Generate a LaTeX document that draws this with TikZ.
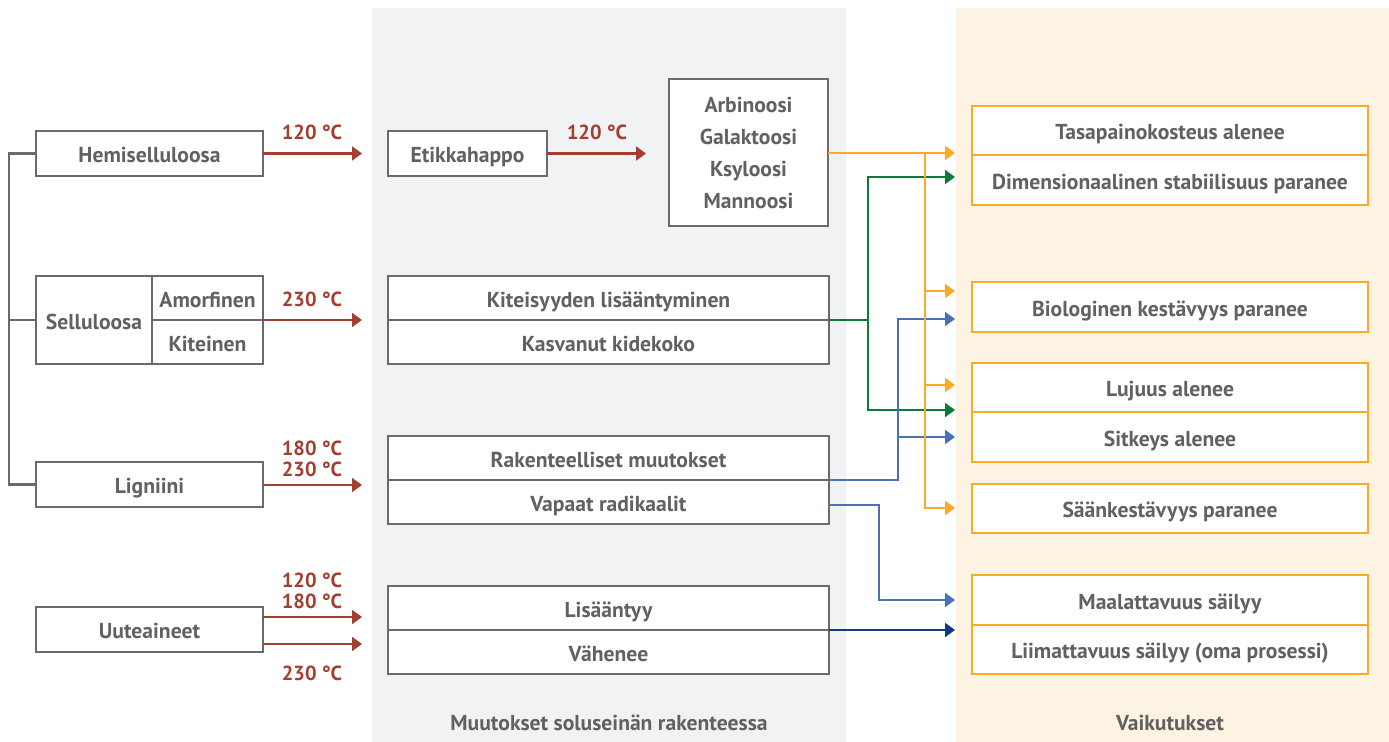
\documentclass[tikz,border=0pt]{standalone}
\usepackage{fontspec}
\setmainfont{PT Sans}
\usetikzlibrary{arrows.meta}
\definecolor{txtgray}{HTML}{616161}
\definecolor{boxgray}{HTML}{6B6B6B}
\definecolor{panelgray}{HTML}{F1F2F4}
\definecolor{panelcream}{HTML}{FDF3E3}
\definecolor{heatred}{HTML}{A23F30}
\definecolor{orng}{HTML}{FAAA25}
\definecolor{grn}{HTML}{0B7A3B}
\definecolor{blu}{HTML}{4A70BA}
\definecolor{dblu}{HTML}{0F3A80}
\tikzset{
  every node/.style={font=\bfseries\fontsize{16.2}{19}\selectfont, text=txtgray, inner sep=0pt},
  gbox/.style={draw=boxgray, line width=1.9pt, fill=white, rectangle, outer sep=0pt, text height=13.6pt, text depth=0pt},
  obox/.style={draw=orng, line width=1.9pt, fill=white, rectangle, outer sep=0pt, text height=13.6pt, text depth=0pt},
  temp/.style={text=heatred, font=\bfseries\fontsize{15.3}{18}\selectfont},
  tipa/.style={-{Triangle[length=7.5pt,width=10.5pt]}},
  redarr/.style={draw=heatred, line width=1.6pt, tipa},
  oarr/.style={draw=orng, line width=1.6pt, tipa},
  garr/.style={draw=grn, line width=1.6pt, tipa},
  barr/.style={draw=blu, line width=1.6pt, tipa},
  dbarr/.style={draw=dblu, line width=1.6pt, tipa},
  bus/.style={draw=boxgray, line width=1.9pt}
}
\begin{document}
\begin{tikzpicture}[x=0.75pt,y=-0.75pt]
\useasboundingbox (0,0) rectangle (1389,742);
% panels
\fill[panelgray] (372,8) rectangle (846,742);
\fill[panelcream] (956,8) rectangle (1389,742);
\node (lblmid) at (609,723) {Muutokset soluseinän rakenteessa};
\node (lblright) at (1170,723) {Vaikutukset};

% left column
\node[gbox, minimum width=227*0.75pt, minimum height=45*0.75pt] (hemi) at (149.5,153.5) {Hemiselluloosa};
\node[gbox, minimum width=116*0.75pt, minimum height=88*0.75pt] (sell) at (94,320) {Selluloosa};
\node[gbox, minimum width=111*0.75pt, minimum height=44*0.75pt] (amorf) at (207.5,298) {Amorfinen};
\node[gbox, minimum width=111*0.75pt, minimum height=44*0.75pt] (kite) at (207.5,342) {Kiteinen};
\node[gbox, minimum width=227*0.75pt, minimum height=45*0.75pt] (lig) at (149.5,484.5) {Ligniini};
\node[gbox, minimum width=227*0.75pt, minimum height=45*0.75pt] (uute) at (149.5,629.5) {Uuteaineet};
\coordinate (busTop) at (9,153.5);
\draw[bus] (hemi.west) -- (busTop) |- (lig.west);
\draw[bus] (sell.west) -- (sell.west -| busTop);

% middle column
\node[gbox, minimum width=159*0.75pt, minimum height=45*0.75pt] (etik) at (467.5,153.5) {Etikkahappo};
\node[draw=boxgray, line width=1.9pt, fill=white, outer sep=0pt, minimum width=159*0.75pt, minimum height=147*0.75pt, align=center, font=\bfseries\fontsize{16.2}{24}\selectfont] (sug) at (748.5,152.5) {Arbinoosi\\Galaktoosi\\Ksyloosi\\Mannoosi};
\node[gbox, minimum width=441*0.75pt, minimum height=44*0.75pt] (kit1) at (608.5,298) {Kiteisyyden lisääntyminen};
\node[gbox, minimum width=441*0.75pt, minimum height=44*0.75pt] (kit2) at (608.5,342) {Kasvanut kidekoko};
\node[gbox, minimum width=441*0.75pt, minimum height=44*0.75pt] (rak1) at (608.5,458) {Rakenteelliset muutokset};
\node[gbox, minimum width=441*0.75pt, minimum height=44*0.75pt] (rak2) at (608.5,502) {Vapaat radikaalit};
\node[gbox, minimum width=441*0.75pt, minimum height=44*0.75pt] (lis1) at (608.5,608) {Lisääntyy};
\node[gbox, minimum width=441*0.75pt, minimum height=44*0.75pt] (lis2) at (608.5,652) {Vähenee};

% right column
\node[obox, minimum width=396*0.75pt, minimum height=49*0.75pt] (tas) at (1170,130.5) {Tasapainokosteus alenee};
\node[obox, minimum width=396*0.75pt, minimum height=50*0.75pt] (dim) at (1170,180) {Dimensionaalinen stabiilisuus paranee};
\node[obox, minimum width=396*0.75pt, minimum height=50*0.75pt] (bio) at (1170,307) {Biologinen kestävyys paranee};
\node[obox, minimum width=396*0.75pt, minimum height=49*0.75pt] (luj) at (1170,387.5) {Lujuus alenee};
\node[obox, minimum width=396*0.75pt, minimum height=50*0.75pt] (sit) at (1170,437) {Sitkeys alenee};
\node[obox, minimum width=396*0.75pt, minimum height=49*0.75pt] (saan) at (1170,508.5) {Säänkestävyys paranee};
\node[obox, minimum width=396*0.75pt, minimum height=50*0.75pt] (maal) at (1170,600) {Maalattavuus säilyy};
\node[obox, minimum width=396*0.75pt, minimum height=49*0.75pt] (liim) at (1170,649.5) {Liimattavuus säilyy (oma prosessi)};

% red heat arrows
\coordinate (r1) at (362,153.5);
\coordinate (r2) at (362,320);
\coordinate (r3) at (362,485);
\coordinate (r4) at (362,617);
\coordinate (r5) at (362,644);
\coordinate (r6) at (646,153.5);
\draw[redarr] (hemi.east) -- (r1);
\draw[redarr] (amorf.south east) -- (r2);
\draw[redarr] (lig.east |- r3) -- (r3);
\draw[redarr] (uute.east |- r4) -- (r4);
\draw[redarr] (uute.east |- r5) -- (r5);
\draw[redarr] (etik.east) -- (r6);
\node[temp] (t1) at (312,132) {120 °C};
\node[temp] (t2) at (312,299) {230 °C};
\node[temp] (t3) at (312,448) {180 °C};
\node[temp] (t4) at (312,469) {230 °C};
\node[temp] (t5) at (312,580) {120 °C};
\node[temp] (t6) at (312,601) {180 °C};
\node[temp] (t7) at (312,673) {230 °C};
\node[temp] (t8) at (597,132) {120 °C};

% effect arrow targets
\coordinate (eTas) at (955,153);
\coordinate (eDim) at (955,177);
\coordinate (eBioO) at (955,291);
\coordinate (eBioB) at (955,319);
\coordinate (eLujO) at (955,385);
\coordinate (eLujG) at (955,410);
\coordinate (eSit) at (955,437);
\coordinate (eSaan) at (955,508);
\coordinate (eMaal) at (955,600);
\coordinate (eLiim) at (955,630);
\coordinate (gx) at (868,320);
\coordinate (bx) at (898,480);
\coordinate (bx2) at (879,505);
\coordinate (ox) at (925,153);

% green
\draw[garr] (kit1.south east) -- (gx) |- (eDim);
\draw[garr] (gx) |- (eLujG);
% blue
\draw[barr] (rak1.south east) -- (bx) |- (eBioB);
\draw[barr] (bx) |- (eSit);
\draw[barr] (rak2.east |- bx2) -- (bx2) |- (eMaal);
% dark blue
\draw[dbarr] (lis1.south east) -- (eLiim);
% orange
\draw[oarr] (sug.east |- eTas) -- (eTas);
\draw[oarr] (ox) |- (eSaan);
\draw[oarr] (ox |- eBioO) -- (eBioO);
\draw[oarr] (ox |- eLujO) -- (eLujO);
\end{tikzpicture}
\end{document}
